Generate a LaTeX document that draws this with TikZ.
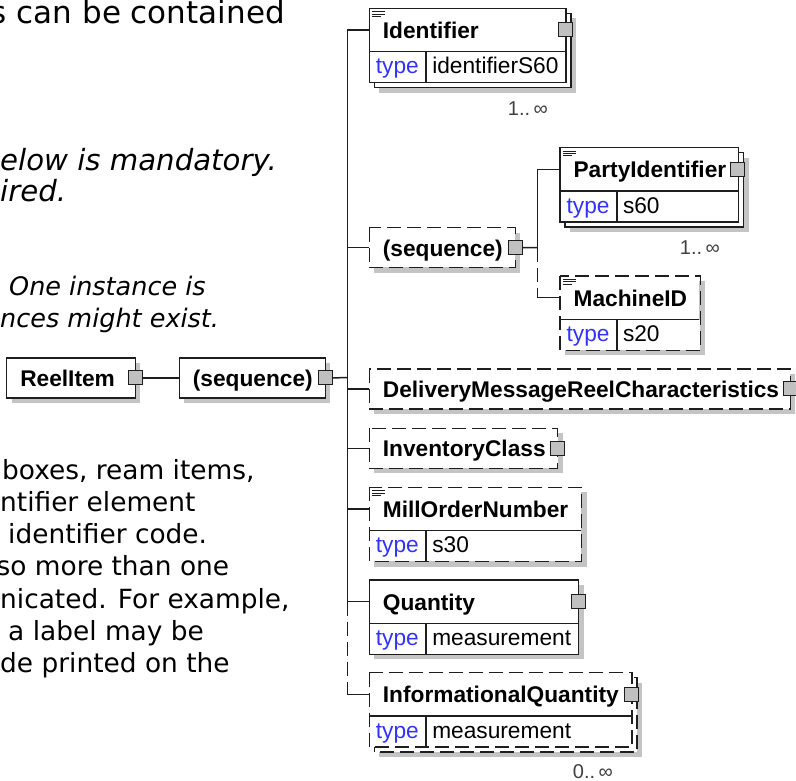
\documentclass[tikz,border=0pt]{standalone}
\usepackage{fontspec}
\setmainfont{Liberation Sans}
\newfontfamily\docfont{DejaVu Sans}
\usepackage{tikz}
\usetikzlibrary{backgrounds}
\definecolor{typeblue}{RGB}{51,51,255}
\definecolor{shadowgray}{RGB}{196,196,196}
\definecolor{sqgray}{RGB}{192,192,192}
\definecolor{linegray}{RGB}{30,30,30}
\tikzset{
  nm/.style  ={anchor=north west, align=left, fill=white, inner xsep=13.4pt, inner ysep=0pt, minimum height=43pt, text height=19pt, text depth=2pt, font=\fontsize{22.7}{26}\selectfont\bfseries},
  one/.style ={minimum height=39.5pt},
  tp/.style  ={anchor=north west, align=left, fill=white, inner xsep=6.4pt, inner ysep=0pt, minimum height=30.5pt, text height=17.5pt, text depth=4pt, text width=43.6pt, text=typeblue, font=\fontsize{22.7}{26}\selectfont},
  val/.style ={anchor=north west, align=left, fill=white, inner xsep=6pt, inner ysep=0pt, minimum height=30.5pt, text height=17.5pt, text depth=4pt, font=\fontsize{22.7}{26}\selectfont},
  bd/.style  ={draw=linegray, line width=1.4pt},
  ln/.style  ={draw=linegray, line width=1.5pt},
  opt/.style ={dash pattern=on 14pt off 6pt},
  sq/.style  ={draw=linegray, fill=sqgray, line width=1pt, minimum size=14pt, inner sep=0pt},
  shd/.style ={fill=shadowgray},
  icon/.style={draw=linegray, line width=0.9pt},
  mult/.style={anchor=east, inner sep=0pt, text=black!75, font=\fontsize{20}{24}\selectfont},
  doca/.style={anchor=base west, inner sep=0pt, font=\docfont\fontsize{31}{36}\selectfont},
  docb/.style={anchor=base west, inner sep=0pt, font=\docfont\itshape\fontsize{29.2}{32}\selectfont},
  docc/.style={anchor=base west, inner sep=0pt, font=\docfont\itshape\fontsize{25.5}{32}\selectfont},
  docd/.style={anchor=base west, inner sep=0pt, font=\docfont\fontsize{26.4}{32}\selectfont},
}
\begin{document}
\begin{tikzpicture}[x=1pt,y=-1pt]
  \useasboundingbox (0,0) rectangle (796,781);
  % text cut from the page on the left
  \node[doca] (l1) at (-9.4,24) {s can be contained};
  \node[docb] (l2) at (0,171) {elow is mandatory.};
  \node[docb] (l3) at (0,202) {ired.};
  \node[docc] (l4) at (9,295) {One instance is};
  \node[docc] (l5) at (0,327) {nces might exist.};
  \node[docd] (l6) at (2,479) {boxes, ream items,};
  \node[docd] (l7) at (0,511.3) {ntifier element};
  \node[docd] (l8) at (8,543.6) {identifier code.};
  \node[docd] (l9) at (-3.6,575.9) {so more than one};
  \node[docd] (l10) at (0,608.2) {nicated. For example,};
  \node[docd] (l11) at (8,640.5) {a label may be};
  \node[docd] (l12) at (0,672.8) {de printed on the};

  % schema boxes
  \node[nm,one,text width=101.5pt] (reel) at (6.7,358) {ReelItem};
  \node[nm,one,text width=118.9pt] (seqa) at (179.3,358) {(sequence)};

  \node[nm,text width=168.9pt] (ident) at (369.3,8.3) {Identifier};
  \node[tp] (identt) at (ident.south west) {type};
  \node[val,text width=127.3pt] (identv) at (identt.north east) {identifierS60};

  \node[nm,one,text width=118.9pt] (seqb) at (369.3,227.7) {(sequence)};

  \node[nm,text width=150.5pt] (party) at (560,147.7) {PartyIdentifier};
  \node[tp] (partyt) at (party.south west) {type};
  \node[val,text width=109.3pt] (partyv) at (partyt.north east) {s60};

  \node[nm,text width=112.2pt] (mach) at (560,276) {MachineID};
  \node[tp] (macht) at (mach.south west) {type};
  \node[val,text width=71pt] (machv) at (macht.north east) {s20};

  \node[nm,one,text width=393.9pt] (deliv) at (369.3,369) {DeliveryMessageReelCharacteristics};
  \node[nm,one,text width=161.2pt] (inv) at (369.3,428.3) {InventoryClass};

  \node[nm,text width=184.6pt] (mill) at (369.3,487.3) {MillOrderNumber};
  \node[tp] (millt) at (mill.south west) {type};
  \node[val,text width=143pt] (millv) at (millt.north east) {s30};

  \node[nm,text width=181.6pt] (quant) at (369.3,580) {Quantity};
  \node[tp] (quantt) at (quant.south west) {type};
  \node[val,text width=140pt] (quantv) at (quantt.north east) {measurement};

  \node[nm,text width=234.9pt] (iq) at (369.3,672.7) {InformationalQuantity};
  \node[tp] (iqt) at (iq.south west) {type};
  \node[val,text width=193.3pt] (iqv) at (iqt.north east) {measurement};

  % outlines, rows, icons
  \foreach \a/\b in {reel/reel, seqa/seqa, ident/identv, party/partyv, quant/quantv}
    \draw[bd] (\a.north west) rectangle (\b.south east);
  \foreach \a/\b in {seqb/seqb, mach/machv, deliv/deliv, inv/inv, mill/millv, iq/iqv}
    \draw[bd,opt] (\a.north west) rectangle (\b.south east);
  \foreach \a in {ident,party,mach,mill,quant,iq} {
    \draw[bd] (\a.south west) -- (\a.south east);
    \draw[bd] (\a t.north east) -- (\a t.south east);
  }
  \foreach \a in {ident,party,mach,mill} {
    \draw[icon] ([shift={(3pt,-3.4pt)}]\a.north west) -- ++(13pt,0);
    \draw[icon] ([shift={(3pt,-5.8pt)}]\a.north west) -- ++(13pt,0);
    \draw[icon] ([shift={(3pt,-8.2pt)}]\a.north west) -- ++(9pt,0);
  }
  \foreach \a in {reel,seqa,ident,seqb,party,deliv,inv,quant,iq}
    \node[sq] (\a sq) at (\a.east) {};

  % shadows and repeated boxes
  \begin{scope}[on background layer]
    \foreach \a/\b in {ident/identv, party/partyv, iq/iqv}
      \fill[shd] ([shift={(10pt,-10pt)}]\a.north west) rectangle ([shift={(10pt,-10pt)}]\b.south east);
    \foreach \a/\b in {reel/reel, seqa/seqa, seqb/seqb, mach/machv, deliv/deliv, inv/inv, mill/millv, quant/quantv}
      \fill[shd] ([shift={(5pt,-5pt)}]\a.north west) rectangle ([shift={(5pt,-5pt)}]\b.south east);
    \foreach \a/\b in {ident/identv, party/partyv}
      \draw[bd,fill=white] ([shift={(5pt,-5pt)}]\a.north west) rectangle ([shift={(5pt,-5pt)}]\b.south east);
    \draw[bd,opt,fill=white] ([shift={(5pt,-5pt)}]iq.north west) rectangle ([shift={(5pt,-5pt)}]iqv.south east);
  \end{scope}

  % connectors
  \coordinate (bus) at (347.3,377.5);
  \coordinate (busb) at (537.3,247.7);
  \draw[ln] (reelsq.east) -- (seqa.west);
  \draw[ln] (seqasq.east) -- (bus);
  \foreach \a in {ident,seqb,deliv,inv,mill,quant}
    \draw[ln] (bus) |- (\a.west);
  \draw[ln,opt] (bus |- quant.west) -- (bus |- iq.west);
  \draw[ln] (bus |- iq.west) -- (iq.west);
  \draw[ln] (seqbsq.east) -- (busb);
  \draw[ln] (busb) |- (party.west);
  \draw[ln,opt] (busb) -- (busb |- mach.west);
  \draw[ln] (busb |- mach.west) -- (mach.west);

  % occurrences
  \node[mult] (identm) at (548,109) {1..\,∞};
  \node[mult] (partym) at (720,248) {1..\,∞};
  \node[mult] (iqm) at (613,772) {0..\,∞};
\end{tikzpicture}
\end{document}
